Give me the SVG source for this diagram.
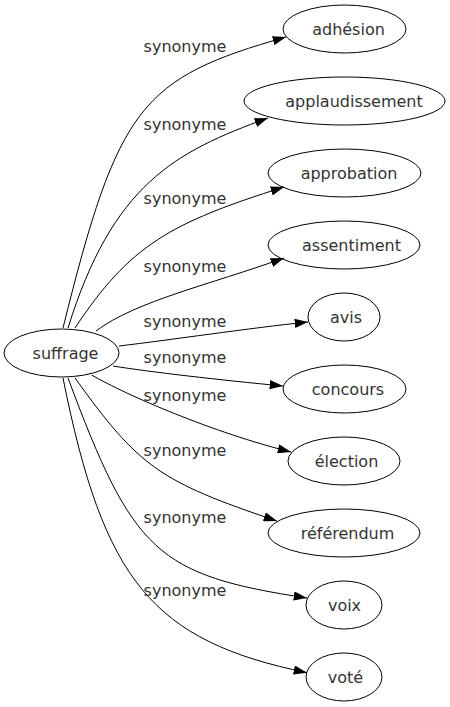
<svg xmlns="http://www.w3.org/2000/svg" width="450" height="707" viewBox="0 0 450 707">
<defs>
<style>
.n ellipse{fill:none;stroke:#000;stroke-width:1}
text{font-family:"DejaVu Sans",sans-serif;font-size:16px;fill:#333;text-anchor:middle}
.e path{fill:none;stroke:#000;stroke-width:1;marker-end:url(#ah)}
</style>
<marker id="ah" markerWidth="13.3" markerHeight="9.3" refX="13.3" refY="4.65" orient="auto" markerUnits="userSpaceOnUse">
<path d="M0,0 L13.3,4.65 L0,9.3 z" fill="#000"/>
</marker>
</defs>
<rect width="450" height="707" fill="#fff"/>
<g id="edges" class="e">
<path d="M63,328 C118.2,104.9 141.7,78.1 286,37"/>
<path d="M68,328 C112.6,184.8 174,152 268,118"/>
<path d="M75,328 C130,245 170,223 284,187"/>
<path d="M96,331 C136,301 209,285 284,258"/>
<path d="M119,346 C170,340 250,328 308,322"/>
<path d="M113,366 C150,372 220,380 283,386"/>
<path d="M91.7,375 C126,395 213.4,432.8 291,452"/>
<path d="M75,378 C139.2,467.2 159.2,481.3 277,521"/>
<path d="M68,378 C133.1,552.9 157.1,575.1 307,598"/>
<path d="M63,378 C103.7,581.7 152.6,640.7 307,672.7"/>
</g>
<g id="labels">
<text x="185" y="52">synonyme</text>
<text x="185" y="130">synonyme</text>
<text x="185" y="204">synonyme</text>
<text x="185" y="272">synonyme</text>
<text x="185" y="327">synonyme</text>
<text x="185" y="363">synonyme</text>
<text x="185" y="401">synonyme</text>
<text x="185" y="456">synonyme</text>
<text x="185" y="523">synonyme</text>
<text x="185" y="596">synonyme</text>
</g>
<g id="suffrage" class="n"><ellipse cx="61.5" cy="353" rx="57.5" ry="24"/><text x="65.5" y="358.5">suffrage</text></g>
<g id="adhesion" class="n"><ellipse cx="344.5" cy="29" rx="61.5" ry="24"/><text x="348.5" y="34.5">adhésion</text></g>
<g id="applaudissement" class="n"><ellipse cx="344.5" cy="101" rx="100.5" ry="24"/><text x="354" y="106.5">applaudissement</text></g>
<g id="approbation" class="n"><ellipse cx="344.5" cy="173" rx="76.5" ry="24"/><text x="349" y="178.5">approbation</text></g>
<g id="assentiment" class="n"><ellipse cx="344" cy="245" rx="76" ry="24"/><text x="351.5" y="250.5">assentiment</text></g>
<g id="avis" class="n"><ellipse cx="344" cy="317" rx="36" ry="24"/><text x="346" y="322.5">avis</text></g>
<g id="concours" class="n"><ellipse cx="344.5" cy="389" rx="61.5" ry="24"/><text x="348" y="394.5">concours</text></g>
<g id="election" class="n"><ellipse cx="344" cy="461" rx="56" ry="24"/><text x="346.5" y="466.5">élection</text></g>
<g id="referendum" class="n"><ellipse cx="344" cy="533" rx="76" ry="24"/><text x="347.5" y="538.5">référendum</text></g>
<g id="voix" class="n"><ellipse cx="344" cy="605" rx="38" ry="24"/><text x="344.5" y="610.5">voix</text></g>
<g id="vote" class="n"><ellipse cx="344" cy="677" rx="38" ry="24"/><text x="345.5" y="682.5">voté</text></g>
</svg>
